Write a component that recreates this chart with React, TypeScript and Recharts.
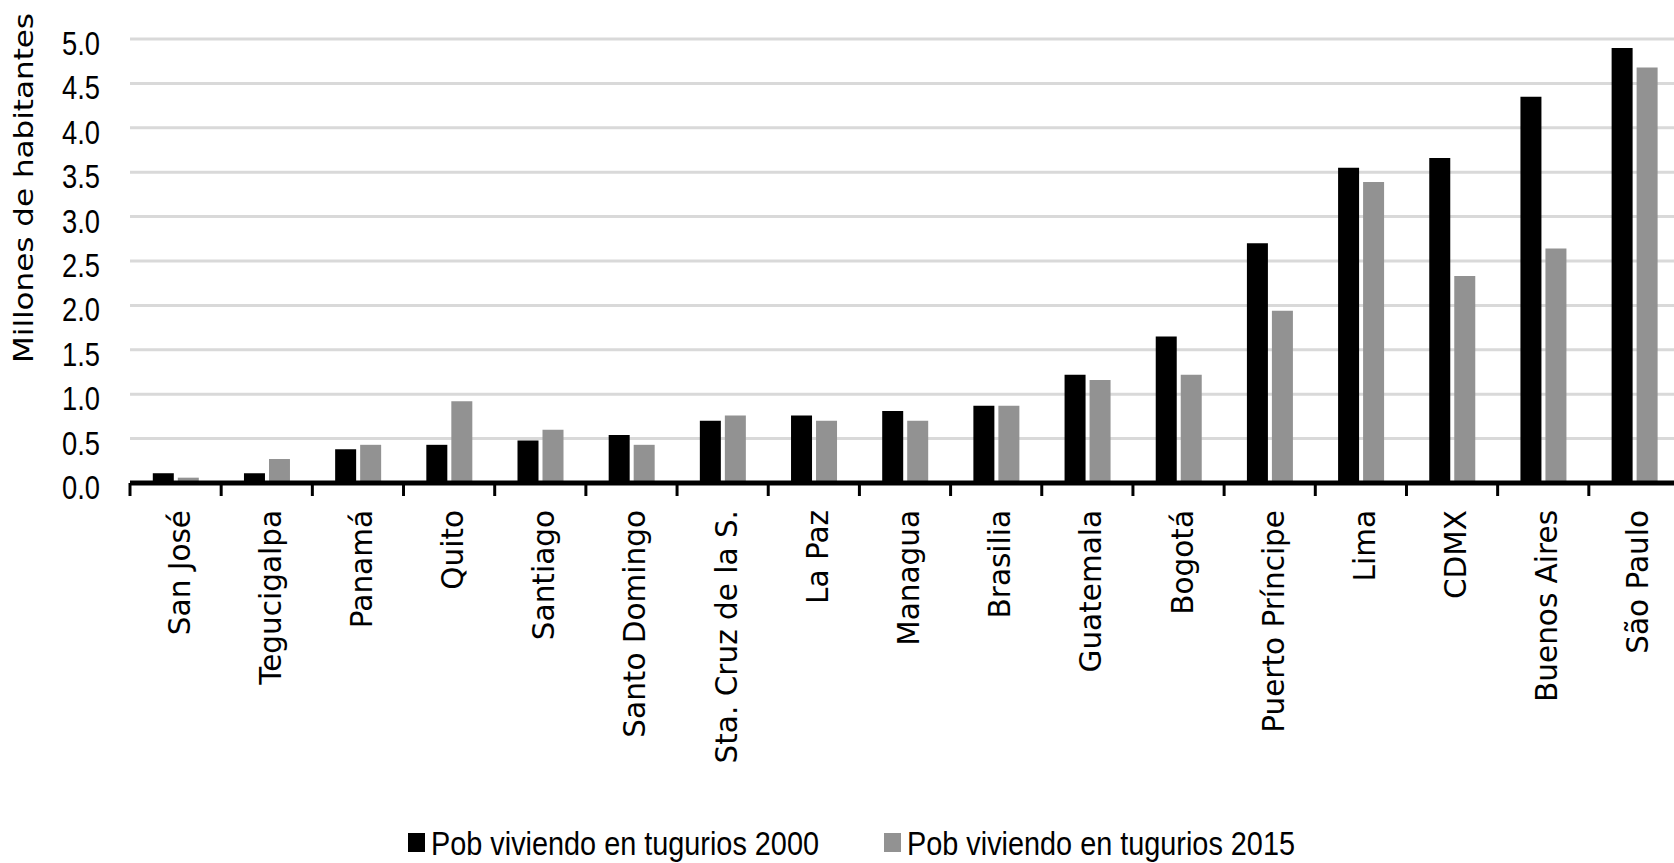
import React from "react";
import { BarChart, Bar, XAxis, YAxis, CartesianGrid } from "recharts";

const CITIES = [
  "San José",
  "Tegucigalpa",
  "Panamá",
  "Quito",
  "Santiago",
  "Santo Domingo",
  "Sta. Cruz de la S.",
  "La Paz",
  "Managua",
  "Brasilia",
  "Guatemala",
  "Bogotá",
  "Puerto Príncipe",
  "Lima",
  "CDMX",
  "Buenos Aires",
  "São Paulo",
];

// millones de habitantes
const POB_2000 = [0.11, 0.11, 0.38, 0.43, 0.48, 0.54, 0.7, 0.76, 0.81, 0.87, 1.22, 1.65, 2.7, 3.55, 3.66, 4.35, 4.9];
const POB_2015 = [0.06, 0.27, 0.43, 0.92, 0.6, 0.43, 0.76, 0.7, 0.7, 0.87, 1.16, 1.22, 1.94, 3.39, 2.33, 2.64, 4.68];

const Y_TICKS = [0, 0.5, 1, 1.5, 2, 2.5, 3, 3.5, 4, 4.5, 5];

const SERIES = [
  { key: "p2000", label: "Pob viviendo en tugurios 2000", color: "#000000" },
  { key: "p2015", label: "Pob viviendo en tugurios 2015", color: "#929292" },
];

const CHART_W = 1690;
const CHART_H = 863;
const AXIS_W = 130;
const MARGIN = { top: 39, right: 10, left: 0, bottom: 0 };
const BAND = (CHART_W - AXIS_W - MARGIN.left - MARGIN.right) / CITIES.length;

const NARROW = "'Liberation Sans Narrow', 'Liberation Sans', sans-serif";

const data = CITIES.map((city, i) => ({
  city,
  p2000: POB_2000[i],
  p2015: POB_2015[i],
}));

function CityTick(props: any) {
  const { x, y, payload, index } = props;
  const half = BAND / 2;
  return (
    <g>
      <line x1={x - half} x2={x - half} y1={y} y2={y + 13} stroke="#000" strokeWidth={3} />
      {index === CITIES.length - 1 ? (
        <line x1={x + half} x2={x + half} y1={y} y2={y + 13} stroke="#000" strokeWidth={3} />
      ) : null}
      <text
        transform={`translate(${x + 14},${y + 27}) rotate(-90)`}
        textAnchor="end"
        fontFamily="'DejaVu Sans', sans-serif"
        fontSize={29.5}
        fill="#000"
      >
        {payload.value}
      </text>
    </g>
  );
}

function ValueTick(props: any) {
  const { y, payload } = props;
  return (
    <text
      x={100}
      y={y + 16}
      textAnchor="end"
      fontFamily={NARROW}
      fontSize={34}
      textLength={38}
      lengthAdjust="spacingAndGlyphs"
      fill="#000"
    >
      {Number(payload.value).toFixed(1)}
    </text>
  );
}

function AxisTitle() {
  return (
    <text
      transform="translate(33,188) rotate(-90)"
      textAnchor="middle"
      fontFamily="'DejaVu Sans', sans-serif"
      fontSize={27}
      textLength={350}
      lengthAdjust="spacingAndGlyphs"
      fill="#000"
    >
      Millones de habitantes
    </text>
  );
}

function LegendBox() {
  const items = [
    { ...SERIES[0], x: 408 },
    { ...SERIES[1], x: 884 },
  ];
  return (
    <svg
      width={1674}
      height={60}
      style={{ position: "absolute", left: 0, top: 815 }}
    >
      {items.map((s) => (
        <g key={s.key}>
          <rect x={s.x} y={18} width={17} height={19} fill={s.color} />
          <text
            x={s.x + 23}
            y={40}
            fontFamily={NARROW}
            fontSize={33}
            textLength={388}
            lengthAdjust="spacingAndGlyphs"
            fill="#000"
          >
            {s.label}
          </text>
        </g>
      ))}
    </svg>
  );
}

export default function App() {
  return (
    <div
      style={{
        position: "absolute",
        left: 0,
        top: 0,
        width: 1674,
        height: CHART_H,
        overflow: "hidden",
        background: "#fff",
      }}
    >
      <BarChart
        width={CHART_W}
        height={CHART_H}
        data={data}
        margin={MARGIN}
        barCategoryGap="25%"
        barGap={4}
      >
        <CartesianGrid vertical={false} stroke="#d9d9d9" strokeWidth={3} />
        <XAxis
          dataKey="city"
          interval={0}
          height={CHART_H - 483 - MARGIN.bottom}
          axisLine={{ stroke: "#000", strokeWidth: 5 }}
          tickLine={false}
          tickSize={0}
          tickMargin={0}
          tick={<CityTick />}
        />
        <YAxis
          width={AXIS_W}
          domain={[0, 5]}
          ticks={Y_TICKS}
          axisLine={false}
          tickLine={false}
          tick={<ValueTick />}
          label={{ content: () => <AxisTitle /> }}
        />
        {SERIES.map((s) => (
          <Bar key={s.key} dataKey={s.key} name={s.label} fill={s.color} isAnimationActive={false} />
        ))}
      </BarChart>
      <LegendBox />
    </div>
  );
}
